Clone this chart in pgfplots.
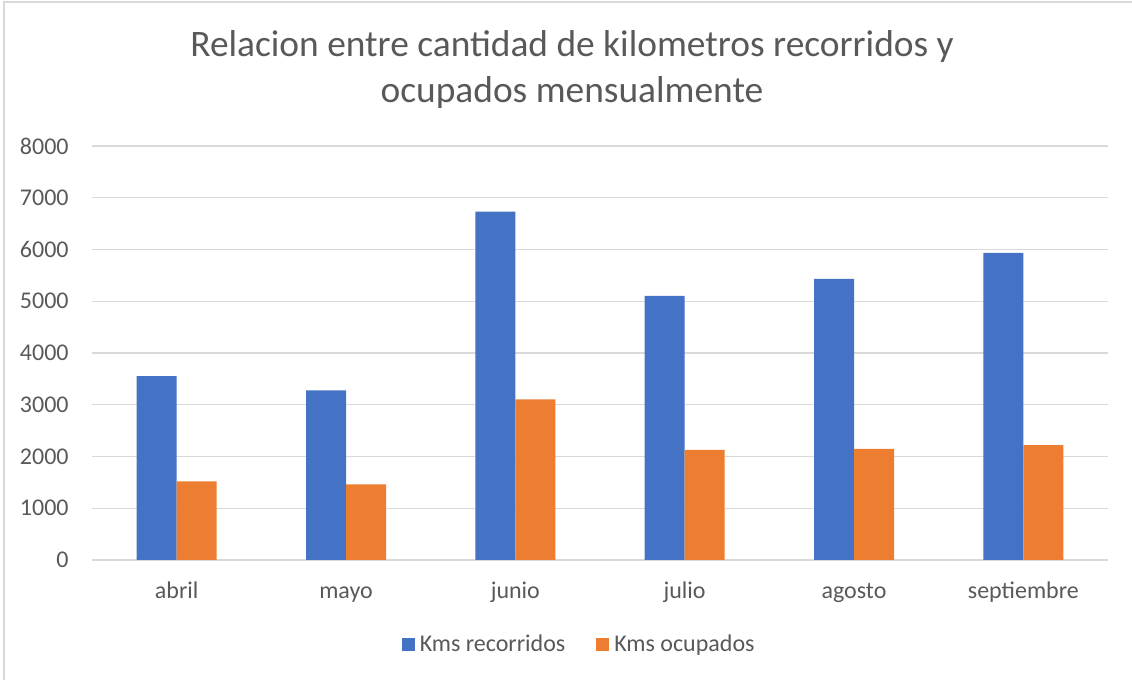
\documentclass[border=0pt]{standalone}
\usepackage{fontspec}
\setmainfont{Carlito}
\usepackage{pgfplots}
\pgfplotsset{compat=1.18}
\definecolor{xlblue}{HTML}{4472C4}
\definecolor{xlorange}{HTML}{ED7D31}
\definecolor{xltext}{HTML}{595959}
\definecolor{xlgrid}{HTML}{D9D9D9}

\begin{document}
\begin{tikzpicture}[x=1pt,y=1pt]
% 1 px of the reference = 0.5pt
\path[use as bounding box] (0,0) rectangle (566,340);
\draw[xlgrid, line width=0.8pt] (1.85,0) -- (1.85,339.1) -- (566,339.1);

\node[anchor=base, text=xltext, font=\fontsize{18.7}{22}\selectfont] at (286,311.7)
  {Relacion entre cantidad de kilometros recorridos y};
\node[anchor=base, text=xltext, font=\fontsize{18.7}{22}\selectfont] at (286,288.5)
  {ocupados mensualmente};

\begin{axis}[
  at={(46pt,60pt)}, anchor=south west,
  scale only axis, width=508pt, height=207pt,
  ybar=0pt, bar width=20pt,
  xmin=-0.5, xmax=5.5, ymin=0, ymax=8000,
  xtick={0,...,5},
  xticklabels={abril,mayo,junio,julio,agosto,septiembre},
  ytick={0,1000,...,8000},
  ymajorgrids, grid style={xlgrid, line width=0.65pt},
  axis line style={draw=none}, major tick length=0pt,
  tick label style={font=\fontsize{12}{14}\selectfont, text=xltext, inner sep=0pt},
  xticklabel style={anchor=base, yshift=-19.5pt},
  yticklabel style={anchor=east, xshift=-11.5pt},
  /pgf/number format/assume math mode=true,
  /pgf/number format/1000 sep={},
  scaled y ticks=false,
  legend columns=2,
  legend style={at={(0.481,-0.2053)}, anchor=center, draw=none,
    font=\fontsize{12}{14}\selectfont, text=xltext,
    nodes={inner xsep=2.5pt},
    /tikz/every even column/.append style={column sep=13pt}},
]
\addplot[fill=xlblue, draw=none,
  legend image code/.code={\fill[xlblue] (0pt,-3.25pt) rectangle (6.5pt,3.25pt);}]
  coordinates {(0,3552) (1,3276) (2,6731) (3,5103) (4,5431) (5,5933)};
\addplot[fill=xlorange, draw=none,
  legend image code/.code={\fill[xlorange] (0pt,-3.25pt) rectangle (6.5pt,3.25pt);}]
  coordinates {(0,1519) (1,1461) (2,3102) (3,2130) (4,2149) (5,2220)};
\legend{Kms recorridos, Kms ocupados}
\end{axis}
\end{tikzpicture}
\end{document}
